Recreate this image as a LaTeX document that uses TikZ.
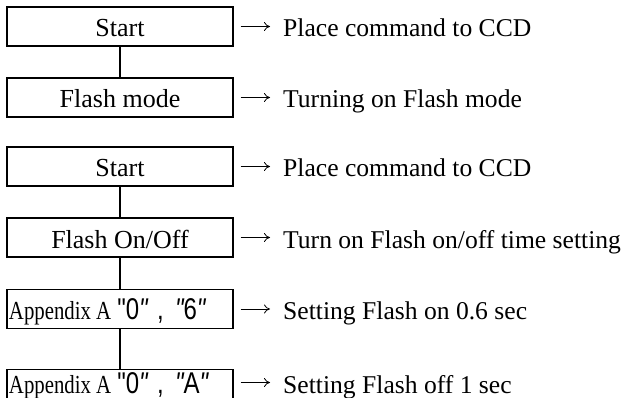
\documentclass[tikz,border=0pt]{standalone}
\usepackage{fontspec}
\setmainfont{Liberation Serif}
\newfontfamily\gsans{Liberation Sans}
\newcommand{\appx}[1]{\makebox[222pt][l]{\scalebox{0.8}[1]{Appendix A}\hspace{6pt}\scalebox{0.8}[1]{\gsans\fontsize{30}{32}\selectfont #1}}}
\usetikzlibrary{arrows.meta}
\tikzset{
  box/.style={draw, line width=1.3pt, minimum width=226pt, minimum height=39pt, inner sep=0pt,
    text height=24pt, text depth=3pt, font=\fontsize{26}{30}\selectfont},
  lab/.style={anchor=west, inner xsep=13pt, inner ysep=0pt, text height=24pt, text depth=3pt,
    font=\fontsize{25.6}{30}\selectfont},
  link/.style={line width=1.3pt},
  note/.style={line width=0.8pt, -{To[length=6pt,width=9pt]}}
}
\begin{document}
\begin{tikzpicture}[x=1pt,y=1pt]
\useasboundingbox (0,0) rectangle (624,-398);
\node[box] (b1) at (120,-26.5) {Start};
\node[box] (b2) at (120,-97.5) {Flash mode};
\node[box] (b3) at (120,-166.5) {Start};
\node[box] (b4) at (120,-237.5) {Flash On/Off};
\node[box] (b5) at (120,-309) {\appx{"0{\itshape"}\hspace{12pt},\hspace{14pt}{\itshape"}6{\itshape"}}};
\node[box, anchor=north, text depth=15pt] (b6) at (120,-369) {\appx{"0{\itshape"}\hspace{12pt},\hspace{14pt}{\itshape"}A{\itshape"}}};
\draw[link] (b1) -- (b2);
\draw[link] (b3) -- (b4);
\draw[link] (b4) -- (b5);
\draw[link] (b5) -- (b6);
\node[lab] (l1) at (270,-26.5) {Place command to CCD};
\node[lab] (l2) at (270,-97.5) {Turning on Flash mode};
\node[lab] (l3) at (270,-166.5) {Place command to CCD};
\node[lab] (l4) at (270,-237.5) {Turn on Flash on/off time setting};
\node[lab] (l5) at (270,-309) {Setting Flash on 0.6 sec};
\node[lab] (l6) at (270,-382.5) {Setting Flash off 1 sec};
\draw[note] ([xshift=7pt]b1.east) -- (l1.west);
\draw[note] ([xshift=7pt]b2.east) -- (l2.west);
\draw[note] ([xshift=7pt]b3.east) -- (l3.west);
\draw[note] ([xshift=7pt]b4.east) -- (l4.west);
\draw[note] ([xshift=7pt]b5.east) -- (l5.west);
\coordinate (c6) at ([xshift=7pt]b6.east |- l6.west);
\draw[note] (c6) -- (l6.west);
\end{tikzpicture}
\end{document}
